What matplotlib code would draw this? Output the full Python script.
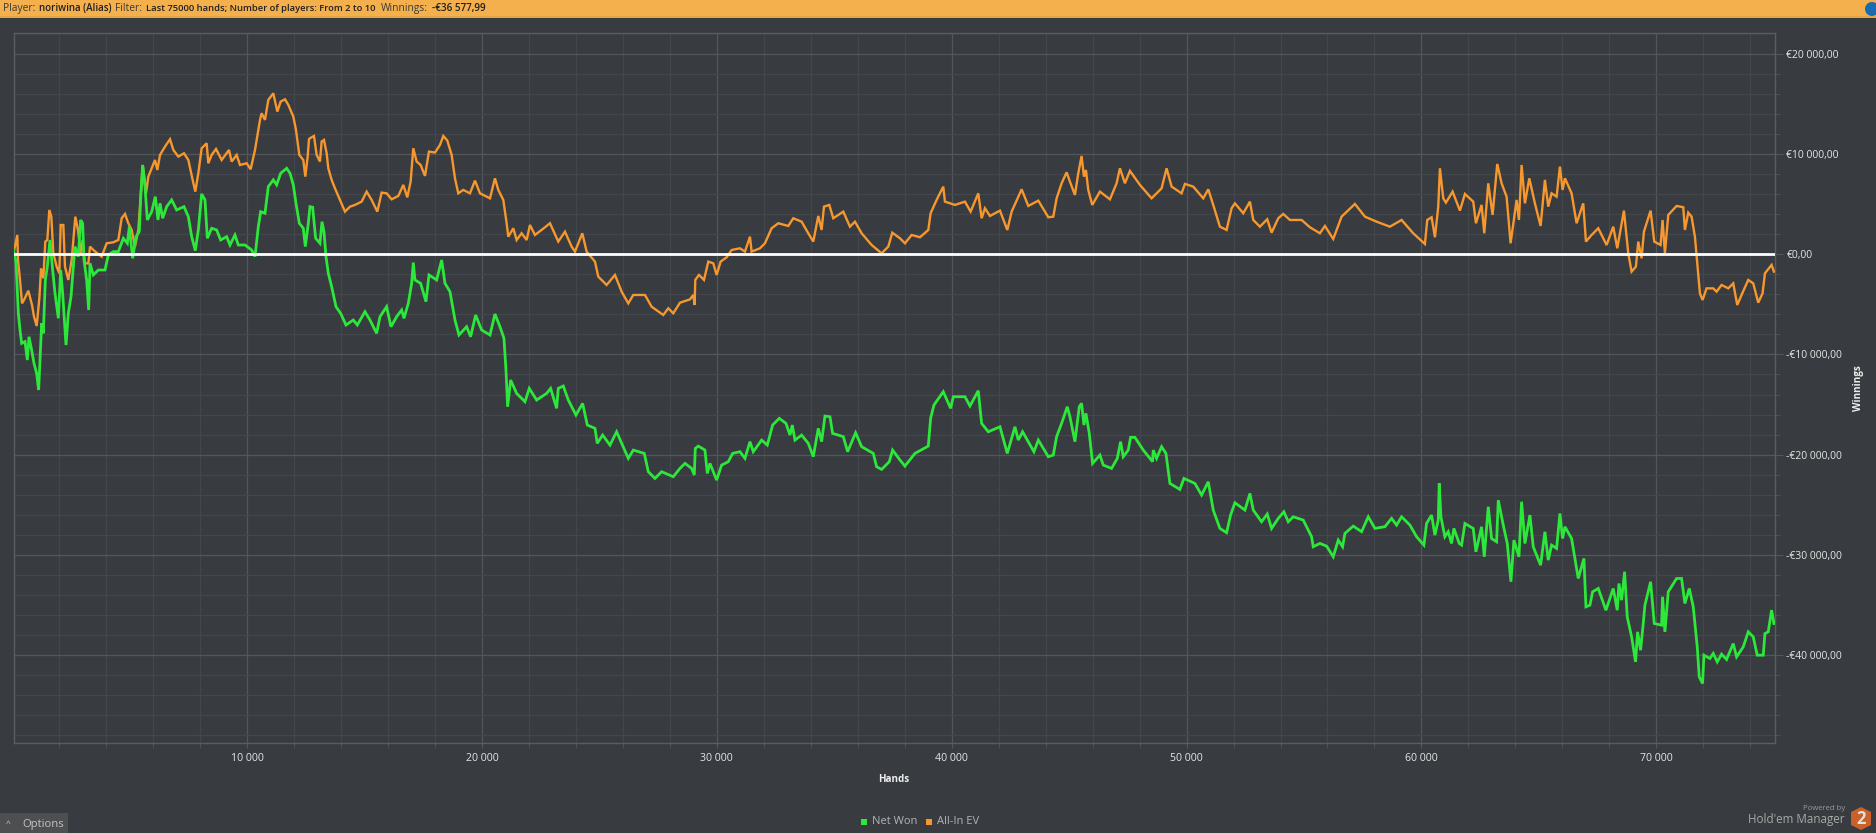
import matplotlib
matplotlib.use("Agg")
import matplotlib.pyplot as plt
from matplotlib.patches import Rectangle, Polygon, Circle
from matplotlib.ticker import FixedLocator, NullFormatter

# ---------------- data (hands, euros) ----------------
all_in_a = [(60,100),(223,1930),(252,-570),(337,-2560),(422,-4900),(507,-4560),(691,-3630),(848,-5060),(933,-6230),(1046,-7160),(1160,-4400),(1231,-1400),(1330,-2400),(1415,1270),(1500,1430),(1585,4430),(1670,3760),(1756,100),(1898,-1230),(2011,-1900),(2068,2930),(2181,2930),(2252,-1230),(2394,-2560),(2536,-570),(2607,1430),(2692,3760),(2806,2430),(2919,100),(3004,1430),(3104,-900),(3246,-900),(3317,770),(3459,430),(3629,100),(3813,-230),(4026,1100),(4310,1200),(4523,1430),(4665,3600),(4807,4030),(4948,3100),(5090,2430),(5232,770),(5374,2430),(5473,5760),(5559,8920),(5644,7430),(5701,6090),(5800,7760),(5942,8590),(6084,9420),(6183,8420),(6297,9920),(6510,10760),(6722,11490),(6864,10420),(7077,9760),(7318,10090),(7503,9420),(7687,7430),(7801,6260),(7928,8090),(8070,10590),(8283,11090),(8354,9090),(8496,9920),(8681,10520),(8922,9420),(9234,10420),(9347,9260),(9560,9920),(9702,8920),(9986,9090),(10156,8490),(10341,10420),(10554,13420),(10624,14090),(10766,13420),(10908,15420),(11121,16080),(11291,14250),(11433,15250),(11618,15480),(11760,14920),(11973,13750),(12086,12420),(12228,9920),(12398,9420),(12483,7760),(12583,9760),(12640,11490)]
all_in_b = [(12682,11590),(12852,11820),(12966,9920),(13107,9260),(13178,11260),(13278,11420),(13391,10090),(13462,8590),(13604,7430),(13746,6590),(13930,5590),(14172,4260),(14385,4760),(14597,4930),(14881,5260),(15094,6260),(15307,5430),(15548,4260),(15733,6160),(15945,6090),(16158,5490),(16442,5830),(16655,6930),(16825,5690),(16967,7260),(17080,10590),(17223,9260),(17393,8920),(17577,7830),(17748,10260),(18003,10160),(18216,10920),(18358,11820),(18528,11360),(18713,9920),(18854,7590),(18996,6090),(19209,6430),(19493,6090),(19706,7360),(19919,6090),(20345,5590),(20557,7590),(20699,6430),(20912,5430),(21054,3100),(21125,1760),(21338,2600),(21480,1430),(21692,2100),(21905,1430),(22047,2930),(22260,1930),(22540,2430),(22899,3100),(23253,1270),(23537,2260),(23821,770),(23963,270),(24275,2100),(24460,270),(24815,-730),(24956,-2230),(25311,-3060),(25666,-2060),(25950,-3730),(26233,-4900),(26446,-4060),(26943,-4060),(27226,-5230),(27723,-6060),(27936,-5390),(28149,-5890),(28433,-4830),(28858,-4500),(29000,-4060),(29057,-5060),(29085,-2560),(29242,-2060)]
all_in_c = [(29455,-2560),(29639,-730),(29852,-900),(29994,-2060),(30164,-730),(30420,-300),(30632,430),(30987,600),(31200,270),(31413,1760),(31484,270),(31839,600),(32051,1100),(32335,2600),(32619,3100),(33045,2830),(33257,3600),(33612,3260),(33896,2100),(34109,1270),(34322,3830),(34464,2430),(34563,4760),(34790,4930),(34960,3600),(35386,4260),(35670,2760),(35883,3260),(36167,2100),(36592,930),(37018,100),(37302,770),(37472,2160),(37799,1600),(38011,1100),(38295,1930),(38650,1700),(39005,2430),(39104,4100),(39359,5430),(39643,6760),(39714,5260),(40140,4930),(40565,5260),(40807,4260),(41133,6090),(41275,3600),(41417,4600),(41630,3830),(42056,4360),(42368,2430),(42553,4260),(42979,6490),(43262,4830),(43689,5360),(44114,3700),(44326,3760),(44468,5590),(44681,7090),(44894,8190)]
all_in_d = [(45035,7260),(45248,5930),(45390,8090),(45531,9820),(45631,7760),(45716,8420),(45815,6430),(45985,4930),(46312,6260),(46738,5490),(47021,7090),(47163,8590),(47376,7090),(47589,8330),(48015,6930),(48511,5590),(48937,6590),(49150,8590),(49363,6760),(49788,6090),(49930,7030),(50285,6760),(50711,5590),(50924,6490),(51136,4930),(51420,2760),(51704,2430),(51917,4600),(52059,5090),(52414,4100),(52697,5260),(52839,3430),(53123,2760),(53435,3500),(53620,2160),(53904,3600),(54116,4030),(54400,3430),(54897,3430),(55251,2700),(55677,2100),(55890,2830),(56244,1530),(56600,3760),(57167,5030),(57594,3760),(58090,3260),(58657,2760),(59154,3430),(59650,2100),(60147,1030)]
all_in_e = [(60247,3430),(60432,3700),(60574,1700),(60715,4760),(60786,8590),(60928,5590),(61042,5160),(61326,6260),(61638,4360),(61851,6030),(62205,5260),(62319,3100),(62560,4930),(62674,2100),(62844,7090),(63028,3930),(63227,9020),(63412,7090),(63624,5760),(63795,1100),(64050,5430),(64150,3430),(64263,8920),(64405,5090),(64590,7590),(64830,5090),(65072,2830),(65256,7430),(65398,4760),(65540,6090),(65753,5760),(65895,8760),(66008,6430),(66108,7590),(66392,6090),(66604,3100),(66888,5090),(67002,1270),(67243,1930),(67527,2600),(67882,930),(68165,2760),(68336,600),(68620,4360),(68804,100),(68946,-1730),(69130,-1230),(69229,1270),(69371,-400),(69471,2260),(69755,4360),(69911,1270),(70180,930),(70265,3430),(70365,100),(70507,3930),(70862,4830),(71146,4700),(71216,2430),(71358,4160),(71500,3760),(71642,1760),(71741,-900),(71855,-3900),(71968,-4560),(72138,-3400),(72422,-3400),(72564,-3730),(72777,-3060),(73061,-3400),(73274,-2900),(73444,-5060),(73628,-4060),(73912,-2560),(74125,-2900),(74338,-4830),(74522,-3900),(74622,-1900),(74906,-1060),(75005,-1730)]

net_won_a = [(60,430),(166,-730),(266,-5890),(337,-7560),(408,-8890),(550,-8720),(649,-10560),(720,-8230),(833,-9560),(933,-10890),(1046,-11890),(1131,-13550),(1188,-10560),(1259,-6890),(1330,-7890),(1415,-2560),(1500,-1230),(1614,1430),(1713,-1230),(1827,-3900),(1969,-6390),(2068,-1570),(2153,-3900),(2295,-9060),(2394,-5890),(2508,-4230),(2607,-1230),(2678,770),(2820,-230),(2919,3430),(3004,3100),(3061,-570),(3175,-2560),(3260,-5560),(3317,-900),(3459,-2060),(3671,-1570),(3955,-1570),(4097,-70),(4310,270),(4523,270),(4736,1600),(4906,1100),(4991,2760),(5133,-400),(5275,1760),(5417,2260),(5473,5590),(5559,8920),(5658,6760),(5757,3430),(5942,4260),(6098,5760),(6211,3430),(6297,5090),(6410,3600),(6581,4760),(6793,5430),(7006,4430),(7318,4760),(7503,3760),(7645,1760),(7801,370),(7928,2430),(8070,6030),(8212,5430),(8312,1600),(8496,2600),(8709,2430),(8879,1430),(9135,1760),(9276,930),(9489,1930),(9631,930),(9915,930),(10199,430),(10341,-230),(10483,2760),(10582,4260),(10766,4100),(10908,6760),(11121,7430),(11263,6930),(11433,8090),(11689,8590),(11831,8090),(11973,6930),(12086,5090),(12228,3100),(12398,2600),(12483,770),(12611,3100)]
net_won_b = [(12682,4760),(12795,4700),(12923,1600),(13107,1100),(13193,3260),(13278,2260),(13363,-230),(13462,-1900),(13604,-3230),(13789,-5230),(13987,-5890),(14214,-7060),(14526,-6560),(14697,-7060),(15023,-5730),(15236,-6560),(15520,-7890),(15662,-6230),(15945,-5230),(16130,-7230),(16371,-6230),(16584,-5560),(16683,-6390),(16868,-4900),(17010,-2900),(17080,-830),(17151,-2560),(17393,-2900),(17620,-4730),(17748,-2060),(18074,-2560),(18287,-570),(18429,-2900),(18642,-3730),(18855,-6560),(19025,-8060),(19351,-7230),(19521,-8230),(19734,-6060),(19990,-7560),(20345,-8060),(20557,-5960),(20770,-7230),(20940,-8390),(21026,-11560),(21096,-15220),(21224,-12550),(21480,-13890),(21835,-14720),(22018,-13390),(22331,-14550),(22757,-13890),(22927,-13390),(23182,-15380),(23253,-13390),(23466,-13150),(23679,-14550),(24005,-16050),(24289,-14890),(24488,-17050),(24815,-17380),(24913,-18880),(25141,-18050),(25453,-19050),(25737,-17720),(26233,-20380),(26446,-19550),(26914,-19880),(27085,-21710),(27369,-22380),(27652,-21710),(28149,-22210),(28433,-21380),(28648,-20880),(28930,-21380),(29043,-22040),(29086,-19380)]
net_won_c = [(29213,-19150),(29497,-19550),(29597,-21880),(29710,-20880),(29994,-22540),(30207,-21050),(30490,-20710),(30675,-19880),(30987,-19710),(31200,-20380),(31413,-18710),(31555,-19710),(31910,-18550),(32151,-19050),(32378,-17050),(32661,-16380),(32945,-16880),(33116,-18050),(33215,-17050),(33329,-18550),(33612,-18050),(33896,-18880),(34109,-20210),(34322,-17380),(34464,-18710),(34606,-16150),(34819,-16220),(34932,-17880),(35386,-18210),(35571,-19710),(35911,-17820),(36167,-19210),(36663,-19880),(36805,-21210),(37018,-21480),(37344,-20710),(37486,-19550),(37799,-20540),(38011,-21150),(38437,-19880),(39005,-19150),(39104,-16380),(39246,-15050),(39643,-13720),(39955,-15380),(40069,-14220),(40565,-14220),(40778,-15150),(41133,-13620),(41275,-16880),(41559,-17720),(42056,-17220),(42368,-19880),(42694,-17220),(42837,-18550),(43020,-17720),(43503,-19710),(43689,-18550),(44114,-20210),(44326,-20050),(44468,-18210),(44681,-16880),(44922,-15220),(45035,-16220),(45248,-18710),(45433,-15220)]
net_won_d = [(45531,-14880),(45631,-17050),(45716,-15880),(45858,-17880),(45999,-20880),(46312,-20050),(46454,-21050),(46808,-21380),(47050,-20380),(47192,-18710),(47305,-20210),(47518,-19550),(47617,-18280),(47802,-18280),(48157,-19550),(48554,-20710),(48582,-19550),(48724,-20380),(48937,-19210),(49122,-19880),(49292,-22880),(49717,-23480),(49888,-22380),(50356,-22880),(50640,-24040),(50924,-22710),(51136,-25540),(51420,-27370),(51704,-27800),(51874,-26040),(52059,-24810),(52485,-25540),(52697,-23880),(52839,-25540),(53194,-26710),(53435,-25940),(53620,-27370),(53904,-26370),(54144,-25710),(54329,-26710),(54542,-26210),(54968,-26540),(55322,-28200),(55393,-29200),(55677,-28870),(55961,-29140),(56244,-30200),(56458,-28540),(56642,-29200),(56742,-27870),(57097,-27140),(57451,-27700),(57735,-26210),(58019,-27370),(58445,-27200),(58728,-26370),(58941,-27040),(59154,-26210),(59509,-27040),(59793,-28200),(60105,-29040),(60218,-26870),(60431,-26040),(60573,-28040),(60715,-26540),(60757,-22880),(60828,-26210),(60998,-28200),(61140,-27700),(61282,-28870),(61382,-27370),(61608,-28870)]
net_won_e = [(61709,-29040),(61851,-26880),(62205,-27380),(62319,-29710),(62560,-27210),(62674,-30210),(62844,-25210),(62986,-28380),(63199,-28710),(63270,-24550),(63483,-27040),(63653,-28880),(63809,-32700),(63937,-28540),(64150,-30210),(64263,-24710),(64405,-28880),(64618,-26040),(64760,-29210),(65072,-31040),(65256,-27710),(65398,-30540),(65540,-29040),(65753,-29370),(65895,-25880),(66008,-28380),(66108,-27210),(66392,-28380),(66675,-32370),(66917,-30370),(67002,-35200),(67172,-35040),(67286,-33700),(67527,-33370),(67853,-35540),(68165,-33370),(68336,-35540),(68407,-32870),(68520,-34540),(68648,-31700),(68761,-36200),(68946,-38200),(69116,-40700),(69201,-37700),(69329,-39530),(69442,-36870),(69513,-35040),(69755,-32700),(69911,-36870),(70223,-37030),(70265,-34200),(70365,-37700),(70507,-33700),(70862,-32370),(71074,-32370),(71216,-34870),(71401,-33370),(71571,-35200),(71741,-39200),(71826,-42200),(71968,-42860),(72025,-40030),(72280,-40360),(72422,-39860),(72593,-40700),(72777,-39930),(72990,-40460),(73274,-38870),(73416,-40200),(73700,-39200),(73912,-37700),(74125,-38200),(74295,-40030),(74551,-40030),(74622,-37870),(74764,-37700),(74906,-35530),(75005,-36870)]

x_major = [10000, 20000, 30000, 40000, 50000, 60000, 70000]
x_labels = ["10 000", "20 000", "30 000", "40 000", "50 000", "60 000", "70 000"]
y_major = [-40000, -30000, -20000, -10000, 0, 10000, 20000]
y_labels = ["-€40 000,00", "-€30 000,00", "-€20 000,00", "-€10 000,00", "€0,00", "€10 000,00", "€20 000,00"]
x_minor = [h for h in range(2000, 76000, 2000) if h % 10000]
y_minor = [v for v in range(-48000, 22000, 2000) if v % 10000]

# ---------------- style ----------------
W, H = 1876, 833
BG = "#383b3f"
GREEN = "#2ce83a"
ORANGE = "#f7982f"
plt.rcParams["font.family"] = ["Open Sans", "DejaVu Sans"]
fig = plt.figure(figsize=(W / 100, H / 100), dpi=100, facecolor=BG)
L, R, T, B = 13.5, 1774.5, 33.3, 743.0
ax = fig.add_axes([L / W, 1 - B / H, (R - L) / W, (B - T) / H], facecolor=BG)

def unzip(*parts):
    pts = [p for part in parts for p in part]
    return [p[0] for p in pts], [p[1] for p in pts]

ax_h, ax_v = unzip(all_in_a, all_in_b, all_in_c, all_in_d, all_in_e)
nw_h, nw_v = unzip(net_won_a, net_won_b, net_won_c, net_won_d, net_won_e)
ax.plot(ax_h, ax_v, color=ORANGE, lw=1.7, solid_joinstyle="miter", zorder=3)
ax.plot(nw_h, nw_v, color=GREEN, lw=2.0, solid_joinstyle="miter", zorder=4)
ax.axhline(0, color="white", lw=2.0, zorder=5)

ax.set_xlim(60, 75030)
ax.set_ylim(-48800, 22070)
ax.yaxis.tick_right()
ax.xaxis.set_major_locator(FixedLocator(x_major))
ax.xaxis.set_minor_locator(FixedLocator(x_minor))
ax.yaxis.set_major_locator(FixedLocator(y_major))
ax.yaxis.set_minor_locator(FixedLocator(y_minor))
ax.set_xticklabels(x_labels)
ax.set_yticklabels(y_labels)
ax.xaxis.set_minor_formatter(NullFormatter())
ax.yaxis.set_minor_formatter(NullFormatter())
ax.grid(True, which="major", color="#53565a", lw=0.9, zorder=1)
ax.grid(True, which="minor", color="#43464a", lw=0.9, zorder=1)
ax.set_axisbelow(True)
ax.tick_params(axis="x", which="major", length=3.3, width=0.8, color="#54575b", labelcolor="#e6e6e6", labelsize=7.6, pad=4)
ax.tick_params(axis="x", which="minor", length=3.3, width=0.8, color="#4c4f53")
ax.tick_params(axis="y", which="major", length=6, width=0.8, color="#54575b", labelcolor="#e6e6e6", labelsize=7.5, pad=2.5)
ax.tick_params(axis="y", which="minor", length=3.3, width=0.8, color="#4c4f53")
for s in ax.spines.values():
    s.set_color("#5a5d61")
    s.set_linewidth(1.0)

# overlay in picture units for the window furniture
ov = fig.add_axes([0, 0, 1, 1], facecolor="none")
ov.set_xlim(0, W)
ov.set_ylim(H, 0)
ov.axis("off")
ov.add_patch(Rectangle((0, 0), W, 18, color="#f4b04c", lw=0))
ov.add_patch(Rectangle((0, 15.5), W, 2.5, color="#e5a545", lw=0))
ov.add_patch(Circle((1872, 9), 7, color="#1a6cb0", lw=0))
ov.add_patch(Rectangle((0, 813), 68, 20, color="#4e4f50", lw=0))

def t(x, y, s, size=7.2, color="#303030", weight="normal", ha="left", va="center", **kw):
    ov.text(x, y, s, fontsize=size, color=color, fontweight=weight, ha=ha, va=va, **kw)

t(3, 8.5, "Player:", color="#3a3a3a", size=7.4)
t(39, 8.5, "noriwina (Alias)", weight="semibold", color="#202020", size=7.0)
t(115, 8.5, "Filter:", color="#3a3a3a", size=7.4)
t(146, 8.5, "Last 75000 hands; Number of players: From 2 to 10", weight="semibold", color="#202020", size=6.75)
t(381, 8.5, "Winnings:", color="#3a3a3a", size=7.4)
t(432, 8.5, "-€36 577,99", weight="semibold", color="#202020", size=7.1)

t(894, 780, "Hands", size=7.1, weight="bold", color="#eeeeee", ha="center")
t(1858, 388, "Winnings", size=7.1, weight="bold", color="#eeeeee", ha="center", rotation=90)

ov.add_patch(Rectangle((861, 819), 6, 6, color=GREEN, lw=0))
t(872, 822, "Net Won", size=8, color="#b4b4b4")
ov.add_patch(Rectangle((926, 819), 6, 6, color=ORANGE, lw=0))
t(937, 822, "All-In EV", size=8, color="#b4b4b4")

t(8, 824, "^", size=6, color="#d0d0d0", ha="center")
t(22, 824, "Options", size=8.1, color="#c4c4c4")

t(1845, 809, "Powered by", size=5.6, color="#9a9a9a", ha="right")
t(1845, 820, "Hold'em Manager", size=8.4, color="#a8a8a8", ha="right")
ov.add_patch(Polygon([(1861, 807), (1871, 812), (1871, 825), (1861, 830), (1851, 825), (1851, 812)], color="#c8622a", lw=0))
t(1861, 819, "2", size=12, weight="bold", color="#e4e0da", ha="center")

fig.savefig("out.png", dpi=100, facecolor=BG)
